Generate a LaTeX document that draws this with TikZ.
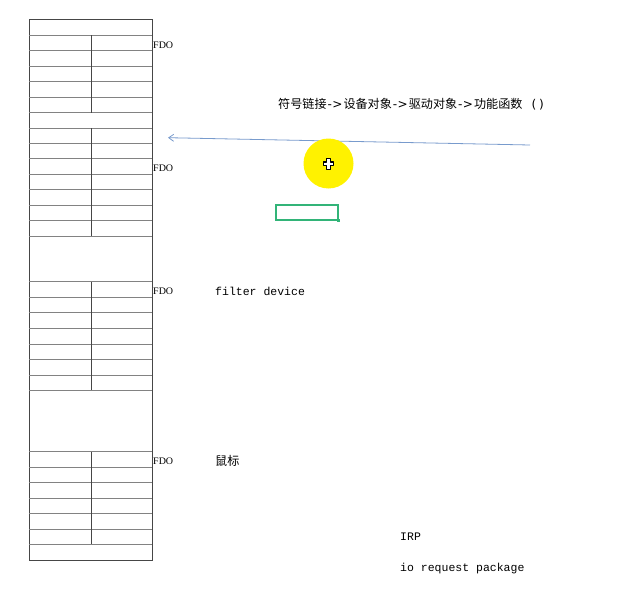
\documentclass[tikz,border=0pt]{standalone}
\usepackage{fontspec}
\setmainfont{Liberation Serif}
\newfontfamily\cjk{Noto Sans CJK SC}
\newfontfamily\monof{Liberation Mono}
\newfontfamily\djv{DejaVu Sans}
\usetikzlibrary{arrows.meta}
\definecolor{hline}{RGB}{130,130,130}
\definecolor{vline}{RGB}{70,70,70}
\definecolor{arrowblue}{RGB}{120,155,205}
\definecolor{greenbox}{RGB}{50,180,120}
\newcommand{\arw}{{\djv\kern1pt-\kern0.4pt>\kern1pt}}
\begin{document}
\begin{tikzpicture}[x=1pt,y=-1pt,
  hl/.style={draw=hline,line width=0.8pt},
  vl/.style={draw=vline,line width=0.8pt},
  fdo/.style={font=\fontsize{10}{12}\selectfont,anchor=west,inner sep=0pt},
  mono/.style={font=\monof\fontsize{11.5}{13}\selectfont,anchor=west,inner sep=0pt},
  cjkt/.style={font=\cjk\fontsize{12.1}{13}\selectfont,anchor=west,inner sep=0pt}]
\useasboundingbox[fill=white] (0,0) rectangle (627,589);
% outer frame
\draw[vl] (29.3,19.3) rectangle (152.3,560);
% horizontal lines
\foreach \y in {35,50.7,66,81.7,97.3,112.7,128.3,143.3,158.3,174,189.3,205,220.7,236,
  281.7,297.3,312.7,328.3,344,359.3,375,390,
  451.7,467.3,482.7,498.3,513.3,529.3,544.3}
  \draw[hl] (29.3,\y) -- (152.3,\y);
% middle vertical segments
\draw[vl] (91,35) -- (91,112.7);
\draw[vl] (91,128.3) -- (91,236);
\draw[vl] (91,281.7) -- (91,390);
\draw[vl] (91,451.7) -- (91,544.3);
% labels
\node[fdo] (fdo1) at (153,45) {FDO};
\node[fdo] (fdo2) at (153,168) {FDO};
\node[fdo] (fdo3) at (153,291) {FDO};
\node[fdo] (fdo4) at (153,461) {FDO};
\node[mono] (filter) at (215,291) {filter device};
\node[cjkt] (mouse) at (215,461) {鼠标};
\node[mono] (irp) at (400,537) {IRP};
\node[mono] (iorp) at (400,569) {io request package};
\node[cjkt] (chain) at (278,104) {符号链接\arw 设备对象\arw 驱动对象\arw 功能函数\hspace{9pt}{\djv (\kern3pt)}};
% arrow
\coordinate (astart) at (530,145);
\coordinate (aend) at (168,137.7);
\draw[arrowblue,line width=0.8pt,-{Straight Barb[length=5pt,width=7pt]}] (astart) -- (aend);
% yellow highlight and cursor
\fill[yellow] (328.5,163.5) circle (25);
\draw[black,fill=white,line width=1.1pt,line join=round]
  (326.8,158.8) -- (330.7,158.8) -- (330.7,162) -- (333.9,162) -- (333.9,165.9) -- (330.7,165.9) -- (330.7,169.1) -- (326.8,169.1) -- (326.8,165.9) -- (323.6,165.9) -- (323.6,162) -- (326.8,162) -- cycle;
% green box
\draw[greenbox,line width=1.8pt] (276,205) rectangle (338,220);
\fill[greenbox] (336.5,218.5) rectangle (339.5,221.5);
\end{tikzpicture}
\end{document}
